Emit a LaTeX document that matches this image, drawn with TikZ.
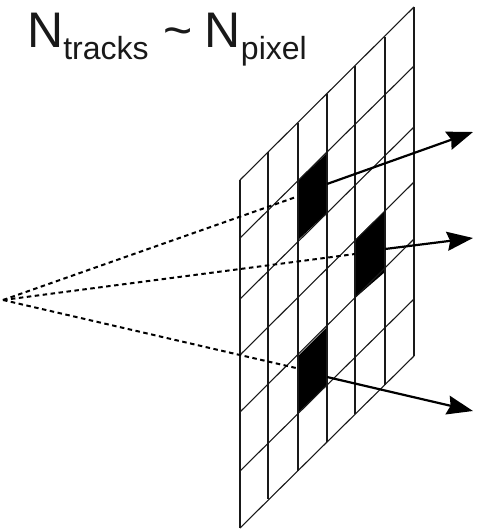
\documentclass[tikz,border=0pt]{standalone}
\usepackage{fontspec}
\setmainfont{Liberation Sans}
\usetikzlibrary{arrows.meta}
\newcommand{\bigf}{\fontsize{50}{51}\selectfont}
\newcommand{\subf}[1]{\raisebox{-12pt}{\fontsize{32}{33}\selectfont #1}}
\tikzset{
  gridline/.style={draw=black!90, line width=1.1pt},
  cell/.style={fill=black},
  ray/.style={draw=black, line width=2pt, dash pattern=on 4.5pt off 3.5pt},
  track/.style={draw=black, line width=2.2pt, -{Stealth[length=26pt,width=19pt,inset=3pt]}},
  title/.style={anchor=base west, inner sep=0pt, text=black!90}
}
\begin{document}
\begin{tikzpicture}[x=1pt,y=-1pt]
\useasboundingbox (0,0) rectangle (477,529);
% black cells
\fill[cell] (298,181) -- (327,153) -- (327,213) -- (298,240) -- cycle;
\fill[cell] (355,240) -- (385,211) -- (385,272) -- (355,298) -- cycle;
\fill[cell] (298,356) -- (327,327) -- (327,385) -- (298,413) -- cycle;
% panel rows
\foreach \yl/\yr in {180/7,238/66,299/127,355/182,412/239,471/299,528/356}
  \draw[gridline] (240,\yl) -- (414,\yr);
% panel columns
\draw[gridline] (240,180) -- (240,528);
\draw[gridline] (268,152) -- (268,499);
\draw[gridline] (298,123) -- (298,471);
\draw[gridline] (327,94) -- (327,442);
\draw[gridline] (355,66) -- (355,414);
\draw[gridline] (385,37) -- (385,385);
\draw[gridline] (414,7) -- (414,356);
% named end points
\coordinate (apex) at (3,300);
\coordinate (h1) at (296,197);
\coordinate (h2) at (355,254);
\coordinate (h3) at (296,368);
\coordinate (s1) at (327,184);
\coordinate (s2) at (385,249);
\coordinate (s3) at (327,377);
\coordinate (e1) at (473,132);
\coordinate (e2) at (473,238);
\coordinate (e3) at (473,411);
\draw[ray] (apex) -- (h1);
\draw[ray] (apex) -- (h2);
\draw[ray] (apex) -- (h3);
\draw[track] (s1) -- (e1);
\draw[track] (s2) -- (e2);
\draw[track] (s3) -- (e3);
\node[title] (ttl) at (27,48) {\bigf N\subf{tracks}\hspace{14.5pt}\char"7E\hspace{12.5pt}N\subf{pixel}};
\end{tikzpicture}
\end{document}
